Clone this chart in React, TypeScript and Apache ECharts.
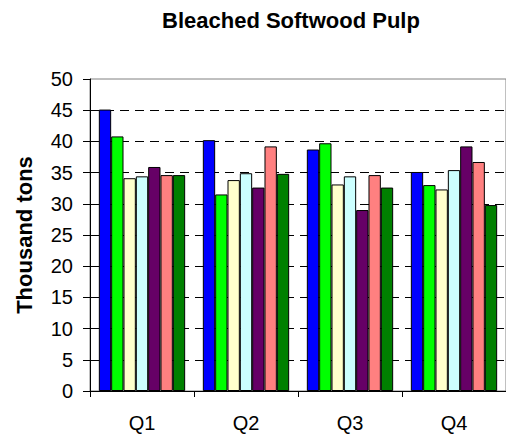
import React, { useEffect, useRef } from "react";
import * as echarts from "echarts";

const categories = ["Q1", "Q2", "Q3", "Q4"];
const seriesNames = ["Series 1", "Series 2", "Series 3", "Series 4", "Series 5", "Series 6", "Series 7"];
const s1 = [45.1, 40.2, 38.7, 35.1];
const s2 = [40.8, 31.5, 39.7, 33.0];
const s3 = [34.1, 33.8, 33.1, 32.3];
const s4 = [34.4, 34.9, 34.4, 35.4];
const s5 = [35.9, 32.6, 29.0, 39.2];
const s6 = [34.6, 39.2, 34.6, 36.7];
const s7 = [34.6, 34.8, 32.6, 29.8];
const seriesValues = [s1, s2, s3, s4, s5, s6, s7];
const colors = ["#0000FF", "#00FF00", "#FFFFCC", "#CCFFFF", "#660066", "#FF8080", "#008000"];
const yTicks = { min: 0, max: 50, interval: 5 };

const FONT = "'Liberation Sans', Arial, sans-serif";

export default function App() {
  const ref = useRef<HTMLDivElement>(null);
  useEffect(() => {
    if (!ref.current) return;
    const chart = echarts.init(ref.current, null, { renderer: "svg" });
    chart.setOption({
      animation: false,
      backgroundColor: "#ffffff",
      title: {
        text: "Bleached Softwood Pulp",
        left: 157,
        top: 4,
        textStyle: { fontFamily: FONT, fontSize: 22, fontWeight: "bold", color: "#000" },
      },
      grid: {
        left: 90,
        top: 79,
        width: 424,
        height: 312,
        show: true,
        borderColor: "#808080",
        borderWidth: 1,
        backgroundColor: "#ffffff",
      },
      xAxis: {
        type: "category",
        data: categories,
        axisLine: { lineStyle: { color: "#000", width: 1 } },
        axisTick: { show: true, length: 6, lineStyle: { color: "#000" } },
        axisLabel: { fontFamily: FONT, fontSize: 20, color: "#000", margin: 22 },
      },
      yAxis: {
        type: "value",
        min: yTicks.min,
        max: yTicks.max,
        interval: yTicks.interval,
        name: "Thousand tons",
        nameLocation: "middle",
        nameGap: 55,
        nameRotate: 90,
        nameTextStyle: { fontFamily: FONT, fontSize: 22, fontWeight: "bold", color: "#000" },
        axisLine: { show: true, lineStyle: { color: "#000", width: 1 } },
        axisTick: { show: true, length: 7, lineStyle: { color: "#000" } },
        axisLabel: { fontFamily: FONT, fontSize: 20, color: "#000", margin: 17 },
        splitLine: {
          show: true,
          showMaxLine: false,
          lineStyle: { color: "#000", type: [9, 6], width: 1 },
        },
      },
      series: seriesValues.map((vals, i) => ({
        name: seriesNames[i],
        type: "bar",
        data: vals,
        barGap: "0%",
        barCategoryGap: "17%",
        itemStyle: { color: colors[i], borderColor: "#000", borderWidth: 1 },
      })),
    });
    return () => chart.dispose();
  }, []);
  return (
    <div
      ref={ref}
      style={{ position: "fixed", left: 0, top: 0, width: 506, height: 440, background: "#fff" }}
    />
  );
}
